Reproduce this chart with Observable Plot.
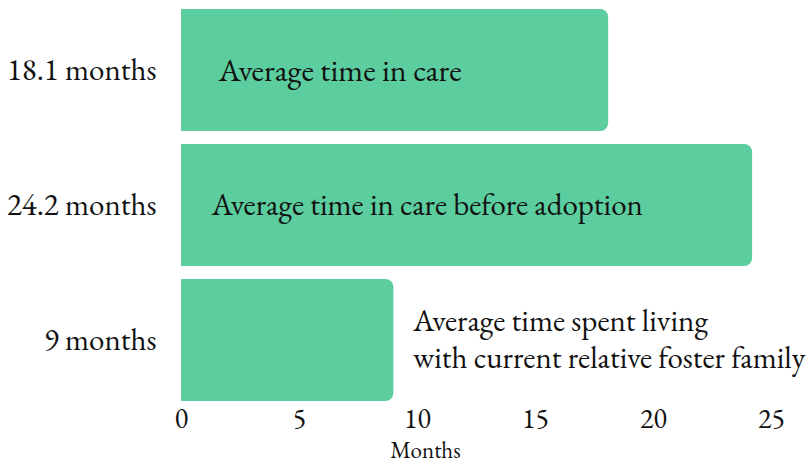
<!DOCTYPE html>
<html>
<head>
<meta charset="utf-8">
<script src="https://cdn.jsdelivr.net/npm/d3@7"></script>
<script src="https://cdn.jsdelivr.net/npm/@observablehq/plot@0.6"></script>
<style>
  html, body { margin: 0; padding: 0; background: #fff; }
  #chart svg { display: block; }
</style>
</head>
<body>
<div id="chart"></div>
<script>
const descriptions = [
  "Average time in care",
  "Average time in care before adoption",
  "Average time spent living\nwith current relative foster family"
];
const values = [18.1, 24.2, 9];
const valueLabels = ["18.1 months", "24.2 months", "9 months"];
const xTicks = [0, 5, 10, 15, 20, 25];
const axisLabel = "Months";

const data = descriptions.map((d, i) => ({desc: d, value: values[i], label: valueLabels[i], idx: i}));

const font = "'EB Garamond', 'Liberation Serif', 'DejaVu Serif', serif";
const barColor = "#5ccd9e";
const ink = "#111";

const chart = Plot.plot({
  width: 809,
  height: 466,
  marginTop: 8,
  marginBottom: 65,
  marginLeft: 181,
  marginRight: 38,
  style: {fontFamily: font, fontSize: "31px", color: ink, background: "#fff"},
  x: {domain: [0, 25], ticks: xTicks, label: null},
  y: {domain: valueLabels, paddingInner: 0.1, paddingOuter: 0, label: null},
  marks: [
    Plot.barX(data, {x: "value", y: "label", fill: barColor, rx: 8}),
    Plot.barX(data, {x1: 0, x2: d => d.value / 2, y: "label", fill: barColor}),
    Plot.axisY({tickSize: 0, tickPadding: 25, fontSize: 31, label: null}),
    Plot.axisX({ticks: xTicks, tickSize: 0, tickPadding: 7, fontSize: 28, label: null}),
    Plot.text(data.filter(d => d.idx === 0), {x: 0, y: "label", text: "desc", textAnchor: "start", dx: 37, fontSize: 32, fill: ink}),
    Plot.text(data.filter(d => d.idx === 1), {x: 0, y: "label", text: "desc", textAnchor: "start", dx: 30, fontSize: 31, fill: ink}),
    Plot.text(data.filter(d => d.idx === 2), {x: "value", y: "label", text: "desc", textAnchor: "start", dx: 19, dy: -3, fontSize: 31, lineHeight: 1.19, fill: ink}),
    Plot.text([axisLabel], {frameAnchor: "bottom", dx: -51, dy: 56, fontSize: 23, fill: ink})
  ]
});
document.getElementById("chart").appendChild(chart);
</script>
</body>
</html>
